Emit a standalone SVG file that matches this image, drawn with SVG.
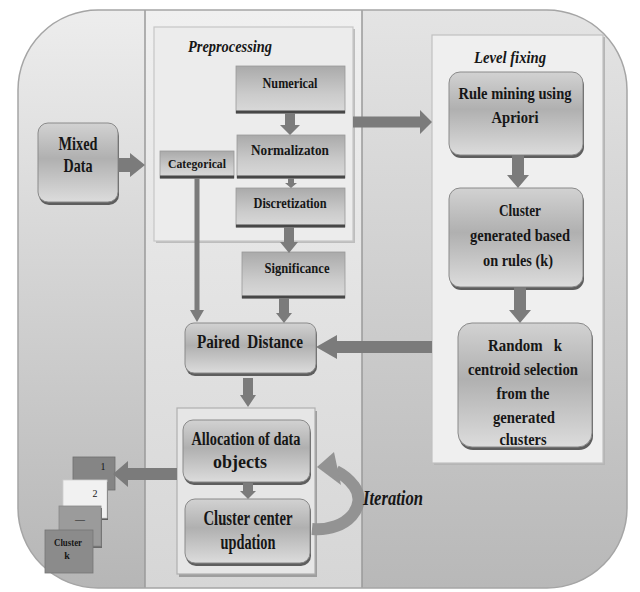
<svg xmlns="http://www.w3.org/2000/svg" width="640" height="592" viewBox="0 0 640 592">
<defs>
<clipPath id="outer"><rect x="18" y="10" width="609" height="578" rx="80" ry="80"/></clipPath>
<linearGradient id="bgL" x1="0" y1="0" x2="0" y2="1"><stop offset="0" stop-color="#ededed"/><stop offset="1" stop-color="#b6b6b6"/></linearGradient>
<linearGradient id="bgM" x1="0" y1="0" x2="0" y2="1"><stop offset="0" stop-color="#f0f0f0"/><stop offset="1" stop-color="#d6d6d6"/></linearGradient>
<linearGradient id="bgR" x1="0" y1="0" x2="0" y2="1"><stop offset="0" stop-color="#e4e4e4"/><stop offset="1" stop-color="#b8b8b8"/></linearGradient>
<linearGradient id="sq" x1="0" y1="0" x2="0" y2="1"><stop offset="0" stop-color="#aaaaaa"/><stop offset="0.6" stop-color="#cbcbcb"/><stop offset="1" stop-color="#dadada"/></linearGradient>
<linearGradient id="rnd" x1="0" y1="0" x2="0" y2="1"><stop offset="0" stop-color="#d2d2d2"/><stop offset="0.45" stop-color="#b0b0b0"/><stop offset="1" stop-color="#dcdcdc"/></linearGradient>
<style>
.t{font-family:"Liberation Serif","Times New Roman",serif;font-weight:bold;fill:#161616;text-anchor:middle}
.i{font-style:italic}
.sq{fill:url(#sq);stroke:#9a9a9a;stroke-width:0.8}
.bot{stroke:#474747;stroke-width:3}
.rnd{fill:url(#rnd);stroke:#8a8a8a;stroke-width:1}
.sh{fill:#5e5e5e}
.arr{fill:#7b7b7b}
.cont{stroke-width:1.2}
</style>
</defs>

<g id="background">
<g clip-path="url(#outer)">
<rect x="18" y="10" width="127" height="578" fill="url(#bgL)"/>
<rect x="145" y="10" width="217" height="578" fill="url(#bgM)"/>
<rect x="362" y="10" width="265" height="578" fill="url(#bgR)"/>
<line x1="145" y1="10" x2="145" y2="588" stroke="#9a9a9a" stroke-width="1.5"/>
<line x1="362" y1="10" x2="362" y2="588" stroke="#9a9a9a" stroke-width="1.5"/>
</g>
<rect x="18" y="10" width="609" height="578" rx="80" ry="80" fill="none" stroke="#a5a5a5" stroke-width="1.5"/>
</g>

<g id="preprocessing">
<rect x="156" y="29" width="199" height="214" fill="#bdbdbd"/>
<rect class="cont" x="154" y="27" width="199" height="214" fill="#ececec" stroke="#c6c6c6"/>
<text class="t i" x="230" y="52" font-size="17" textLength="84" lengthAdjust="spacingAndGlyphs">Preprocessing</text>
</g>

<g id="level-fixing">
<rect x="434" y="37" width="171" height="428" fill="#b5b5b5"/>
<rect class="cont" x="432" y="35" width="171" height="428" fill="#efefef" stroke="#c0c0c0"/>
<text class="t i" x="510" y="63" font-size="16" textLength="72" lengthAdjust="spacingAndGlyphs">Level fixing</text>
</g>

<g id="iteration-block">
<rect x="179" y="411" width="138" height="166" fill="#9e9e9e"/>
<rect class="cont" x="177" y="408" width="138" height="166" fill="#e6e6e6" stroke="#b0b0b0"/>
</g>

<g id="mixed-data">
<rect class="sh" x="39" y="126" width="80" height="79" rx="10"/>
<rect class="rnd" x="38" y="123" width="80" height="79" rx="10"/>
<text class="t" x="78" y="150" font-size="19" textLength="39" lengthAdjust="spacingAndGlyphs">Mixed</text>
<text class="t" x="78" y="172" font-size="19" textLength="29" lengthAdjust="spacingAndGlyphs">Data</text>
</g>

<g id="numerical">
<rect class="sq" x="236" y="66" width="109" height="47"/>
<line class="bot" x1="236" y1="112" x2="345" y2="112"/>
<text class="t" x="290" y="88" font-size="15" textLength="55" lengthAdjust="spacingAndGlyphs">Numerical</text>
</g>

<g id="normalization">
<rect class="sq" x="237" y="135" width="108" height="43"/>
<line class="bot" x1="237" y1="177" x2="345" y2="177"/>
<text class="t" x="290" y="155" font-size="15" textLength="78" lengthAdjust="spacingAndGlyphs">Normalizaton</text>
</g>

<g id="categorical">
<rect class="sq" x="160" y="151" width="74" height="27"/>
<line class="bot" x1="160" y1="177" x2="234" y2="177"/>
<text class="t" x="197" y="168" font-size="13" textLength="58" lengthAdjust="spacingAndGlyphs">Categorical</text>
</g>

<g id="discretization">
<rect class="sq" x="236" y="188" width="109" height="39"/>
<line class="bot" x1="236" y1="226" x2="345" y2="226"/>
<text class="t" x="290" y="208" font-size="15" textLength="73" lengthAdjust="spacingAndGlyphs">Discretization</text>
</g>

<g id="significance">
<rect class="sq" x="242" y="252" width="103" height="46"/>
<line class="bot" x1="242" y1="297" x2="345" y2="297"/>
<text class="t" x="297" y="273" font-size="15" textLength="65" lengthAdjust="spacingAndGlyphs">Significance</text>
</g>

<g id="paired-distance">
<rect class="sh" x="186" y="326" width="131" height="50" rx="9"/>
<rect class="rnd" x="185" y="323" width="131" height="50" rx="9"/>
<text class="t" x="250" y="348" font-size="18" textLength="106" lengthAdjust="spacingAndGlyphs" xml:space="preserve">Paired  Distance</text>
</g>

<g id="allocation">
<rect class="sh" x="184" y="423" width="127" height="62" rx="10"/>
<rect class="rnd" x="183" y="420" width="127" height="62" rx="10"/>
<text class="t" x="246" y="445" font-size="18" textLength="109" lengthAdjust="spacingAndGlyphs">Allocation of data</text>
<text class="t" x="240" y="468" font-size="18" textLength="54" lengthAdjust="spacingAndGlyphs">objects</text>
</g>

<g id="cluster-center">
<rect class="sh" x="186" y="502" width="125" height="64" rx="10"/>
<rect class="rnd" x="185" y="499" width="125" height="64" rx="10"/>
<text class="t" x="248" y="525" font-size="20" textLength="89" lengthAdjust="spacingAndGlyphs">Cluster center</text>
<text class="t" x="248" y="549" font-size="20" textLength="55" lengthAdjust="spacingAndGlyphs">updation</text>
</g>

<g id="rule-mining">
<rect class="sh" x="450" y="75" width="134" height="83" rx="11"/>
<rect class="rnd" x="449" y="72" width="134" height="83" rx="11"/>
<text class="t" x="515" y="99" font-size="17" textLength="113" lengthAdjust="spacingAndGlyphs">Rule mining using</text>
<text class="t" x="515" y="123" font-size="17" textLength="47" lengthAdjust="spacingAndGlyphs">Apriori</text>
</g>

<g id="cluster-generated">
<rect class="sh" x="450" y="191" width="134" height="99" rx="11"/>
<rect class="rnd" x="449" y="188" width="134" height="99" rx="11"/>
<text class="t" x="520" y="216" font-size="17" textLength="42" lengthAdjust="spacingAndGlyphs">Cluster</text>
<text class="t" x="520" y="241" font-size="17" textLength="100" lengthAdjust="spacingAndGlyphs">generated based</text>
<text class="t" x="518" y="266" font-size="17" textLength="70" lengthAdjust="spacingAndGlyphs">on rules (k)</text>
</g>

<g id="random-k">
<rect class="sh" x="459" y="326" width="134" height="124" rx="14"/>
<rect class="rnd" x="458" y="323" width="134" height="124" rx="14"/>
<text class="t" x="525" y="351" font-size="17" textLength="74" lengthAdjust="spacingAndGlyphs" xml:space="preserve">Random   k</text>
<text class="t" x="523" y="375" font-size="17" textLength="110" lengthAdjust="spacingAndGlyphs">centroid selection</text>
<text class="t" x="523" y="399" font-size="17" textLength="53" lengthAdjust="spacingAndGlyphs">from the</text>
<text class="t" x="524" y="423" font-size="17" textLength="62" lengthAdjust="spacingAndGlyphs">generated</text>
<text class="t" x="523" y="445" font-size="17" textLength="47" lengthAdjust="spacingAndGlyphs">clusters</text>
</g>

<g id="cluster-stack">
<g id="cluster-1">
<rect x="73" y="457" width="42" height="33" fill="#858585" stroke="#6e6e6e" stroke-width="0.8"/>
<text class="t" x="103" y="470" font-size="10" style="font-weight:normal">1</text>
</g>
<g id="cluster-2">
<rect x="64" y="482" width="44" height="38" fill="#5e5e5e"/>
<rect x="63" y="480" width="44" height="38" fill="#f1f1f1" stroke="#cfcfcf" stroke-width="0.8"/>
<text class="t" x="95" y="497" font-size="10" style="font-weight:normal">2</text>
</g>
<g id="cluster-dots">
<rect x="60" y="508" width="42" height="40" fill="#6a6a6a"/>
<rect x="59" y="506" width="42" height="40" fill="#9b9b9b" stroke="#888" stroke-width="0.8"/>
<text class="t" x="80" y="523" font-size="10" style="font-weight:normal">—</text>
</g>
<g id="cluster-k">
<rect x="45" y="530" width="48" height="43" fill="#8b8b8b" stroke="#757575" stroke-width="0.8"/>
<text class="t" x="68" y="546" font-size="10" textLength="28" lengthAdjust="spacingAndGlyphs">Cluster</text>
<text class="t" x="67" y="559" font-size="10">k</text>
</g>
</g>

<g id="connectors">
<polygon class="arr" points="118,158 130,158 130,153 145,165 130,177 130,172 118,172"/>
<polygon class="arr" points="353,116.5 420,116.5 420,110 432,122 420,134 420,127.5 353,127.5"/>
<polygon class="arr" points="432,341 337,341 337,335 316,347 337,359 337,353 432,353"/>
<polygon class="arr" points="177,468 128,468 128,461 113,474 128,487 128,480 177,480"/>
<polygon class="arr" points="285,113 295,113 295,125 300,125 290,135 280,125 285,125"/>
<polygon class="arr" points="288,178 294,178 294,183 297,183 291,188 285,183 288,183"/>
<polygon class="arr" points="284,227 294,227 294,242 298,242 289,253 280,242 284,242"/>
<polygon class="arr" points="194.5,178 199.5,178 199.5,310 204,310 197,322 190,310 194.5,310"/>
<polygon class="arr" points="279,298 289,298 289,313 292,313 284,323 276,313 279,313"/>
<polygon class="arr" points="243,378 253,378 253,395 256,395 248,407 240,395 243,395"/>
<polygon class="arr" points="243,483 253,483 253,491 256,491 248,499 240,491 243,491"/>
<polygon class="arr" points="512,155 524,155 524,175 529,175 518,188 507,175 512,175"/>
<polygon class="arr" points="514,287 526,287 526,310 531,310 520,323 509,310 514,310"/>
<g id="iteration">
<path d="M 312 529 C 348 532, 368 505, 354 486 C 348 478, 342 474, 336 471" fill="none" stroke="#939393" stroke-width="12"/>
<polygon points="317,467 334,452 341,485" fill="#939393"/>
<text class="t i" x="393" y="505" font-size="20" textLength="60" lengthAdjust="spacingAndGlyphs">Iteration</text>
</g>
</g>
</svg>
